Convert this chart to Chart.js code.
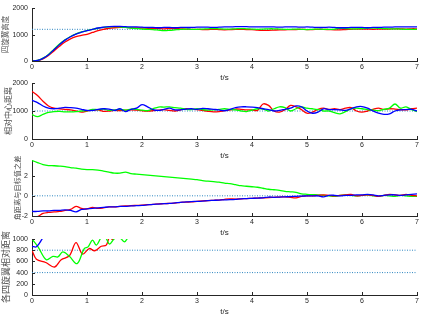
<!DOCTYPE html>
<html><head><meta charset="utf-8">
<script src="https://cdn.jsdelivr.net/npm/chart.js@4.4.0/dist/chart.umd.min.js"></script>
<style>
html,body{margin:0;padding:0;background:#fff;width:423px;height:316px;overflow:hidden;position:relative;}
canvas{position:absolute;left:0;}
</style></head><body>
<canvas id="c1" width="423" height="83" style="top:0px"></canvas>
<canvas id="c2" width="423" height="90" style="top:71px"></canvas>
<canvas id="c3" width="423" height="90" style="top:148px"></canvas>
<canvas id="c4" width="423" height="90" style="top:227px"></canvas>
<script>
// ---- time axis (s) ----
const t = [0,0.1,0.2,0.3,0.4,0.5,0.6,0.7,0.8,0.9,1.0,
1.1,1.2,1.3,1.4,1.5,1.6,1.7,1.8,1.9,2.0,
2.1,2.2,2.3,2.4,2.5,2.6,2.7,2.8,2.9,3.0,
3.1,3.2,3.3,3.4,3.5,3.6,3.7,3.8,3.9,4.0,
4.1,4.2,4.3,4.4,4.5,4.6,4.7,4.8,4.9,5.0,
5.1,5.2,5.3,5.4,5.5,5.6,5.7,5.8,5.9,6.0,
6.1,6.2,6.3,6.4,6.5,6.6,6.7,6.8,6.9,7.0];
const xTicks = [0,1,2,3,4,5,6,7];

// ---- panel 1: 四旋翼高度 ----
const heightRed = [0,10,80,210,380,560,720,840,920,970,1010,
1080,1150,1200,1240,1260,1270,1270,1260,1250,1250,
1240,1240,1230,1220,1230,1230,1220,1210,1200,1200,
1190,1190,1200,1190,1180,1190,1200,1200,1190,1190,
1170,1160,1160,1170,1180,1180,1190,1190,1200,1190,
1190,1200,1200,1190,1180,1180,1190,1200,1210,1210,
1210,1200,1210,1210,1210,1220,1220,1210,1220,1220];
const heightGreen = [0,20,110,250,450,640,800,930,1030,1100,1150,
1200,1240,1270,1290,1300,1290,1270,1250,1230,1210,
1200,1190,1170,1150,1160,1180,1200,1210,1200,1200,
1210,1220,1230,1220,1210,1210,1220,1230,1220,1210,
1200,1210,1220,1220,1210,1200,1200,1210,1200,1190,
1200,1210,1200,1200,1210,1240,1230,1220,1220,1230,
1240,1250,1240,1230,1220,1220,1210,1200,1200,1200];
const heightBlue = [0,20,100,240,430,620,790,920,1020,1090,1150,
1200,1250,1280,1300,1310,1310,1300,1290,1290,1280,
1270,1270,1260,1270,1270,1260,1270,1270,1270,1280,
1280,1280,1270,1280,1290,1290,1300,1300,1300,1290,
1290,1290,1290,1290,1280,1290,1290,1290,1280,1290,
1280,1270,1270,1280,1270,1260,1260,1270,1270,1270,
1260,1270,1270,1280,1280,1290,1290,1290,1290,1290];
const heightRef = [1200];
const heightTicks = [0,1000,2000];

// ---- panel 2: 相对中心距离 ----
const distRed = [1700,1550,1350,1180,1100,1080,1060,1040,1000,960,1000,
1030,1040,990,1000,1020,1010,1030,1040,1030,1010,
1000,1010,1030,1050,1020,1000,1040,1080,1060,1050,
1020,990,970,980,1010,1040,1070,1060,1040,1040,
1020,1250,1200,1000,960,1050,1200,1150,1050,920,
960,1060,1100,1060,1080,1050,1100,1120,1000,960,
1000,1060,1100,1060,1080,1070,1050,1040,1080,1100];
const distGreen = [870,800,880,950,980,990,970,970,980,1000,1010,
1060,1050,1070,1020,1040,1060,1030,1070,1060,1030,
1010,1080,1140,1140,1150,1120,1100,1060,1050,1080,
1050,1030,1040,1060,1080,1060,1040,1000,980,1030,
1080,1070,1000,1080,1150,1120,1000,1080,1150,1100,
1080,1050,1000,1000,940,900,980,1080,1100,1080,
1050,1030,1010,1060,1100,1250,1100,1150,1050,980];
const distBlue = [1380,1300,1180,1100,1080,1100,1130,1120,1100,1060,1020,
1020,1060,1080,1070,1020,1080,980,1060,1100,1230,
1150,1050,1020,1060,1100,1040,1040,1070,1080,1060,
1090,1080,1060,1040,1010,1060,1120,1150,1150,1140,
1120,1080,1050,1000,1020,1060,1100,1180,1150,1000,
920,960,1080,1050,1050,1040,1020,1080,1150,1160,
1100,1000,920,880,900,1000,1040,1050,1060,1000];
const distRef = [1000];
const distTicks = [0,1000,2000];

// ---- panel 3: 角距离与目标值之差 ----
const angRed = [-2.1,-2.05,-1.75,-1.65,-1.6,-1.55,-1.45,-1.35,-1.05,-1.25,-1.3,
-1.15,-1.25,-1.2,-1.1,-1.1,-1.05,-1.0,-0.98,-0.95,-0.92,
-0.88,-0.85,-0.8,-0.78,-0.75,-0.72,-0.65,-0.62,-0.6,-0.55,
-0.5,-0.48,-0.45,-0.42,-0.35,-0.3,-0.32,-0.3,-0.27,-0.25,
-0.22,-0.2,-0.18,-0.15,-0.12,-0.1,-0.15,-0.2,-0.05,0.0,
0.0,0.05,0.1,0.05,0.0,0.05,0.1,0.15,0.0,0.05,
0.1,0.05,-0.05,0.05,0.15,0.1,0.05,0.15,0.05,0.0];
const angGreen = [3.5,3.3,3.1,3.0,2.98,2.95,2.9,2.8,2.75,2.65,2.6,
2.6,2.55,2.45,2.35,2.25,2.25,2.35,2.2,2.15,2.1,
2.05,2.0,1.95,1.9,1.85,1.8,1.75,1.7,1.65,1.6,
1.5,1.45,1.4,1.35,1.25,1.2,1.1,1.0,0.95,0.9,
0.85,0.75,0.65,0.6,0.55,0.45,0.4,0.35,0.2,0.15,
0.12,0.1,0.05,0.0,-0.05,0.05,0.1,0.05,0.0,0.05,
0.1,0.0,-0.05,0.05,0.0,-0.05,0.05,0.0,-0.05,-0.05];
const angBlue = [-1.55,-1.55,-1.5,-1.5,-1.45,-1.45,-1.4,-1.45,-1.6,-1.35,-1.3,
-1.25,-1.2,-1.15,-1.1,-1.1,-1.05,-1.05,-1.0,-0.97,-0.95,
-0.9,-0.85,-0.82,-0.78,-0.75,-0.7,-0.65,-0.6,-0.57,-0.55,
-0.52,-0.48,-0.45,-0.42,-0.4,-0.38,-0.35,-0.3,-0.28,-0.25,
-0.22,-0.2,-0.12,-0.15,-0.12,-0.1,-0.08,-0.05,-0.03,0.0,
0.0,0.0,-0.1,0.05,0.05,0.0,0.05,0.05,0.1,0.1,
0.15,0.1,0.0,0.05,0.1,0.1,0.05,0.1,0.15,0.2];
const angRef = [0];
const angTicks = [-2,0,2];

// ---- panel 4: 各四旋翼相对距离 ----
const pairTRed = [0,0.08,0.25,0.41,0.53,0.68,0.8,0.92,1.04,1.14,1.26,1.35,1.41,1.47,1.55];
const pairRed  = [800,640,580,500,630,700,935,730,830,790,870,890,1030,990,1080];
const pairTGreen = [0,0.11,0.26,0.38,0.47,0.56,0.68,0.82,0.95,1.02,1.1,1.17,1.27,1.34,1.41,1.5,1.58,1.68,1.76];
const pairGreen  = [1000,860,630,690,680,770,690,560,830,860,980,890,1040,1020,910,1010,1040,950,1050];
const pairTBlue = [0,0.08,0.19];
const pairBlue  = [870,860,1010];
const pairRef = [800,400];
const pairTicks = [0,200,400,600,800,1000];

// ---- chart building ----
const RED='#ff0000', GREEN='#00ff00', BLUE='#0000ff', REF='#2e86c1';
const AX='#262626';
const zip=(xs,ys)=>ys.map((v,i)=>({x:xs[i],y:v}));

const inwardTicks={id:'inwardTicks',afterDatasetsDraw(chart){
  const {ctx,chartArea:a,scales:{x,y}}=chart;
  ctx.save();ctx.strokeStyle=AX;ctx.lineWidth=1;ctx.beginPath();
  x.ticks.forEach(tk=>{const px=Math.round(x.getPixelForValue(tk.value))+0.5;ctx.moveTo(px,a.bottom);ctx.lineTo(px,a.bottom-3);});
  y.ticks.forEach(tk=>{const py=Math.round(y.getPixelForValue(tk.value))+0.5;ctx.moveTo(a.left,py);ctx.lineTo(a.left+3,py);});
  ctx.stroke();ctx.restore();}};

function line(data,color){return {data,borderColor:color,borderWidth:1.3,pointRadius:0,tension:0.35,fill:false};}
function refLine(v){return {data:[{x:0,y:v},{x:7,y:v}],borderColor:REF,borderWidth:1,borderDash:[1,1.5],pointRadius:0,fill:false};}

function make(id,pad,datasets,yMin,yMax,yTicks,title,tSize,tPad){
  new Chart(document.getElementById(id),{
    type:'line',
    data:{datasets},
    plugins:[inwardTicks],
    options:{
      responsive:false,animation:false,devicePixelRatio:1,
      layout:{padding:{top:pad,right:6,left:0,bottom:0}},
      plugins:{legend:{display:false},tooltip:{enabled:false}},
      scales:{
        x:{type:'linear',min:0,max:7,
          afterBuildTicks:s=>{s.ticks=xTicks.map(v=>({value:v}));},
          afterFit:s=>{s.height=22;},
          grid:{display:true,drawOnChartArea:false,drawTicks:false},
          border:{display:true,color:AX,width:1},
          ticks:{font:{family:'Liberation Sans',size:7},color:AX,padding:2,maxRotation:0,autoSkip:false,callback:v=>String(v)},
          title:{display:true,text:'t/s',font:{family:'Liberation Sans',size:8},color:AX,padding:{top:0,bottom:0.2}}},
        y:{type:'linear',min:yMin,max:yMax,
          afterBuildTicks:s=>{s.ticks=yTicks.map(v=>({value:v}));},
          afterFit:s=>{s.width=32;},
          grid:{display:true,drawOnChartArea:false,drawTicks:false},
          border:{display:true,color:AX,width:1},
          ticks:{font:{family:'Liberation Sans',size:7},color:AX,padding:4,autoSkip:false,callback:v=>String(v)},
          title:{display:true,text:title,font:{family:'Noto Sans CJK SC',size:tSize},color:'#505050',padding:{top:tPad,bottom:0}}}
      }
    }
  });
}

make('c1',6,[line(zip(t,heightBlue),BLUE),line(zip(t,heightGreen),GREEN),line(zip(t,heightRed),RED),...heightRef.map(refLine)],
  0,2000,heightTicks,'四旋翼高度',7.5,1);
make('c2',12,[line(zip(t,distBlue),BLUE),line(zip(t,distGreen),GREEN),line(zip(t,distRed),RED),...distRef.map(refLine)],
  0,2000,distTicks,'相对中心距离',8,3.2);
make('c3',12,[line(zip(t,angBlue),BLUE),line(zip(t,angRed),RED),line(zip(t,angGreen),GREEN),...angRef.map(refLine)],
  -2,3.55,angTicks,'角距离与目标值之差',7.2,12.7);
make('c4',12,[line(zip(pairTBlue,pairBlue),BLUE),line(zip(pairTGreen,pairGreen),GREEN),line(zip(pairTRed,pairRed),RED),...pairRef.map(refLine)],
  0,1000,pairTicks,'各四旋翼相对距离',9,0.6);
</script>
</body></html>
